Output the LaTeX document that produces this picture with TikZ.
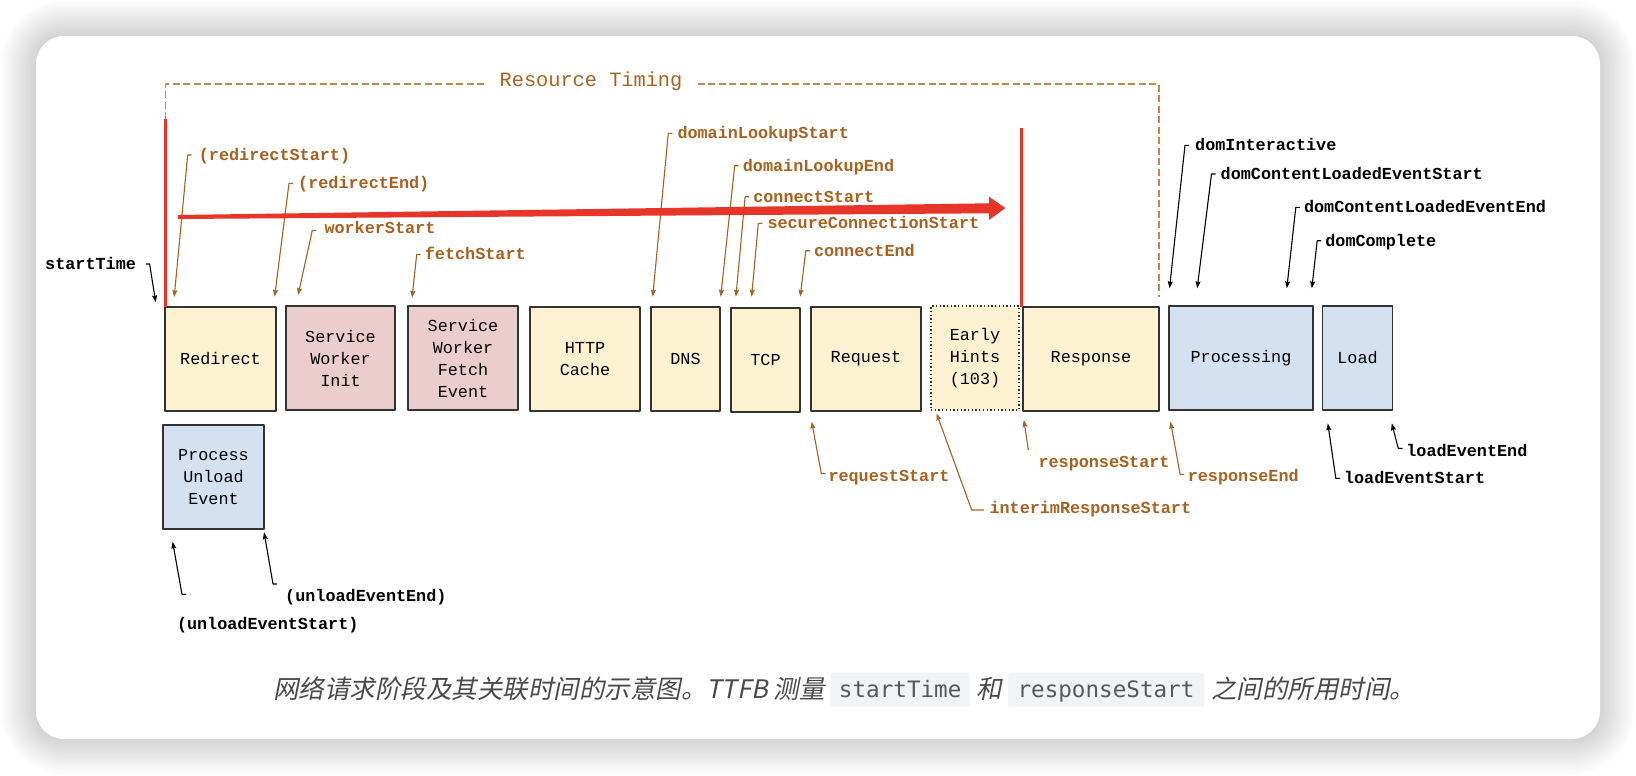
\documentclass[tikz,border=0pt]{standalone}
\usepackage{fontspec}
\usetikzlibrary{arrows.meta,calc}
\newfontfamily\monof{Liberation Mono}
\newfontfamily\codef{DejaVu Sans Mono}
\newfontfamily\cjkf[FakeSlant=0.2]{Noto Sans CJK SC}
\definecolor{brn}{HTML}{A8611F}
\definecolor{dbrn}{HTML}{C0874F}
\definecolor{redc}{HTML}{E8352A}
\definecolor{yelc}{HTML}{FCF1D1}
\definecolor{pinkc}{HTML}{ECCDCD}
\definecolor{bluec}{HTML}{D4E1F1}
\definecolor{bordc}{HTML}{333333}
\definecolor{capc}{HTML}{4A4A4A}
\definecolor{codebg}{HTML}{F1F3F4}
\definecolor{codefg}{HTML}{55595E}
\tikzset{
  box/.style={draw=bordc, line width=1.3pt, anchor=north west, minimum height=104pt,
    inner sep=0pt, outer sep=0pt, align=center, font=\monof\fontsize{16.8}{22}\selectfont},
  lbl/.style={inner sep=0pt, anchor=west, text height=11pt, text depth=0pt,
    font=\monof\bfseries\fontsize{16.8}{20}\selectfont},
  olbl/.style={lbl, text=brn},
  blbl/.style={lbl, text=black},
  lead/.style={draw=brn, line width=1.1pt, -{Stealth[length=7pt,width=5pt,inset=1pt]}},
  blead/.style={lead, draw=black},
  redline/.style={draw=redc, line width=3pt},
  codebox/.style={fill=codebg, text=codefg, inner sep=0pt, minimum height=34pt,
    text height=16pt, text depth=0pt,
    rounded corners=2pt, font=\codef\fontsize{22.6}{26}\selectfont},
  captxt/.style={inner sep=0pt, text=capc, font=\cjkf\fontsize{25.5}{30}\selectfont}
}
\begin{document}
\begin{tikzpicture}[x=1pt,y=-1pt,line join=round]
\useasboundingbox (0,0) rectangle (1636,776);
\fill[white] (0,0) rectangle (1636,776);
% card shadow
\foreach \i in {1,...,14}{
  \pgfmathsetmacro\d{2.5*\i}
  \pgfmathsetmacro\r{28+\d}
  \fill[black, opacity=0.011, rounded corners=\r pt] (36-\d,36-\d) rectangle (1600+\d,739+\d);
}
\fill[white, rounded corners=28pt] (36,36) rectangle (1600,739);

% Resource Timing bracket
\draw[dbrn, line width=1.3pt, dash pattern=on 7pt off 3.5pt] (165.5,119) -- (165.5,84) -- (1159,84) -- (1159,297);
\node[fill=white, inner xsep=15pt, inner ysep=2pt, text=brn, font=\monof\fontsize{20.3}{24}\selectfont] (rt) at (591,81) {Resource Timing};

% phase boxes
\node[box, fill=yelc, minimum width=111pt] (redirect) at (165,307) {Redirect};
\node[box, fill=pinkc, minimum width=109pt] (swinit) at (286,306) {Service\\Worker\\Init};
\node[box, fill=pinkc, minimum width=110pt] (swfetch) at (408,306) {Service\\Worker\\Fetch\\Event};
\node[box, fill=yelc, minimum width=110pt] (http) at (530,307) {HTTP\\Cache};
\node[box, fill=yelc, minimum width=69pt] (dns) at (651,307) {DNS};
\node[box, fill=yelc, minimum width=69pt] (tcp) at (731,308) {TCP};
\node[box, fill=yelc, minimum width=110pt] (request) at (811,307) {Request};
\node[box, fill=yelc, minimum width=88pt, line width=1.1pt, dash pattern=on 1.3pt off 2.4pt] (early) at (931,306) {Early\\Hints\\(103)};
\node[box, fill=yelc, minimum width=136pt] (response) at (1023,307) {Response};
\node[box, fill=bluec, minimum width=144pt] (processing) at (1169,306) {Processing};
\node[box, fill=bluec, minimum width=70pt] (load) at (1322.5,306) {Load};
\node[box, fill=bluec, minimum width=101pt] (unload) at (163,425) {Process\\Unload\\Event};

% tip coordinates
\coordinate (t-st) at (155.7,302.3);
\coordinate (t-rs) at (174.2,297);
\coordinate (t-re) at (274.6,296.7);
\coordinate (t-ws) at (298.1,295);
\coordinate (t-fs) at (412.1,297.7);
\coordinate (t-dls) at (652.7,296.7);
\coordinate (t-dle) at (720.7,296.7);
\coordinate (t-cs) at (735.9,296.7);
\coordinate (t-scs) at (751.6,296.7);
\coordinate (t-ce) at (800.2,296.7);
\coordinate (t-di) at (1169.5,288.3);
\coordinate (t-dcs) at (1197.2,288.3);
\coordinate (t-dce) at (1286.8,288.3);
\coordinate (t-dc) at (1311.8,288.3);
\coordinate (t-ues) at (172.6,541.7);
\coordinate (t-uee) at (264.1,532.3);
\coordinate (t-rqs) at (811.7,421.7);
\coordinate (t-irs) at (936.5,413.3);
\coordinate (t-rsps) at (1023.9,420);
\coordinate (t-rse) at (1170.5,421.7);
\coordinate (t-les) at (1327.8,423.3);
\coordinate (t-lee) at (1391.8,423.3);

% top labels
\node[blbl] (st) at (45,264) {startTime};
\draw[blead] ([xshift=10pt]st.east) -- ([xshift=13.5pt]st.east) -- (t-st);

\node[olbl] (rs) at (198.7,155) {(redirectStart)};
\draw[lead] ([xshift=-7pt]rs.west) -- ([xshift=-11pt]rs.west) -- (t-rs);
\node[olbl] (re) at (298,183.3) {(redirectEnd)};
\draw[lead] ([xshift=-5pt]re.west) -- ([xshift=-9pt]re.west) -- (t-re);
\node[olbl] (ws) at (324.3,228.3) {workerStart};
\draw[lead] ([shift={(-8,2)}]ws.west) -- ([shift={(-12,2)}]ws.west) -- (t-ws);
\node[olbl] (fs) at (424.7,254.3) {fetchStart};
\draw[lead] ([xshift=-4pt]fs.west) -- ([xshift=-8pt]fs.west) -- (t-fs);
\node[olbl] (dls) at (677.3,133.3) {domainLookupStart};
\draw[lead] ([xshift=-5pt]dls.west) -- ([xshift=-9pt]dls.west) -- (t-dls);
\node[olbl] (dle) at (742.7,165.7) {domainLookupEnd};
\draw[lead] ([xshift=-4pt]dle.west) -- ([xshift=-8pt]dle.west) -- (t-dle);
\node[olbl] (cs) at (753.1,196.7) {connectStart};
\draw[lead] ([xshift=-4pt]cs.west) -- ([xshift=-8pt]cs.west) -- (t-cs);
\node[olbl] (scs) at (767.3,223.3) {secureConnectionStart};
\draw[lead] ([xshift=-5pt]scs.west) -- ([xshift=-9pt]scs.west) -- (t-scs);
\node[olbl] (ce) at (813.8,250.7) {connectEnd};
\draw[lead] ([xshift=-4pt]ce.west) -- ([xshift=-8pt]ce.west) -- (t-ce);

\node[blbl] (di) at (1195,145.3) {domInteractive};
\draw[blead] ([xshift=-6pt]di.west) -- ([xshift=-10pt]di.west) -- (t-di);
\node[blbl] (dcs) at (1220.5,174) {domContentLoadedEventStart};
\draw[blead] ([xshift=-5pt]dcs.west) -- ([xshift=-9pt]dcs.west) -- (t-dcs);
\node[blbl] (dce) at (1303.8,207.3) {domContentLoadedEventEnd};
\draw[blead] ([xshift=-4pt]dce.west) -- ([xshift=-8pt]dce.west) -- (t-dce);
\node[blbl] (dc) at (1325.2,240.7) {domComplete};
\draw[blead] ([xshift=-4pt]dc.west) -- ([xshift=-8pt]dc.west) -- (t-dc);

% bottom labels
\node[blbl] (ues) at (176.8,624.3) {(unloadEventStart)};
\draw[blead] ([shift={(9,-30)}]ues.west) -- ([shift={(5.2,-30)}]ues.west) -- (t-ues);
\node[blbl] (uee) at (285,595.7) {(unloadEventEnd)};
\draw[blead] ([shift={(-7.8,-11.7)}]uee.west) -- ([shift={(-12,-11.7)}]uee.west) -- (t-uee);

\node[olbl] (rqs) at (828.3,476) {requestStart};
\draw[lead] ([shift={(-3,-2.5)}]rqs.west) -- ([shift={(-7,-2.5)}]rqs.west) -- (t-rqs);
\node[olbl] (irs) at (989.3,507.7) {interimResponseStart};
\draw[lead] ([shift={(-5.3,2.3)}]irs.west) -- ([shift={(-17.6,2.3)}]irs.west) -- (t-irs);
\node[olbl] (rsps) at (1038.3,461.7) {responseStart};
\draw[lead] ([shift={(-10,-11.7)}]rsps.west) -- (t-rsps);
\node[olbl] (rse) at (1187.6,476) {responseEnd};
\draw[lead] ([shift={(-3.7,-1.7)}]rse.west) -- ([shift={(-7.5,-1.7)}]rse.west) -- (t-rse);

\node[blbl] (les) at (1343.8,478.3) {loadEventStart};
\draw[blead] ([xshift=-3.8pt]les.west) -- ([xshift=-8pt]les.west) -- (t-les);
\node[blbl] (lee) at (1406.2,451) {loadEventEnd};
\draw[blead] ([shift={(-3.7,-2.7)}]lee.west) -- ([shift={(-8,-2.7)}]lee.west) -- (t-lee);

% red TTFB markers
\draw[redline] (redirect.north west) -- ++(0,-188);
\draw[redline] ($(early.north east)!0.5!(response.north west)$) -- ++(0,-179);
\fill[redc] (178,215) -- (989,203.3) -- (989,196.7) -- (1005.3,208) -- (989,220) -- (989,213.3) -- (178,219) -- cycle;

% caption
\node[captxt, anchor=west] (cap1) at (273,689) {网络请求阶段及其关联时间的示意图。TTFB 测量};
\node[codebox, minimum width=139pt] (code1) at (900.2,689.7) {startTime};
\node[captxt] (he) at (989.5,689) {和};
\node[codebox, minimum width=196pt] (code2) at (1106,689.7) {responseStart};
\node[captxt, anchor=west] (cap3) at (1211,689) {之间的所用时间。};
\end{tikzpicture}
\end{document}
